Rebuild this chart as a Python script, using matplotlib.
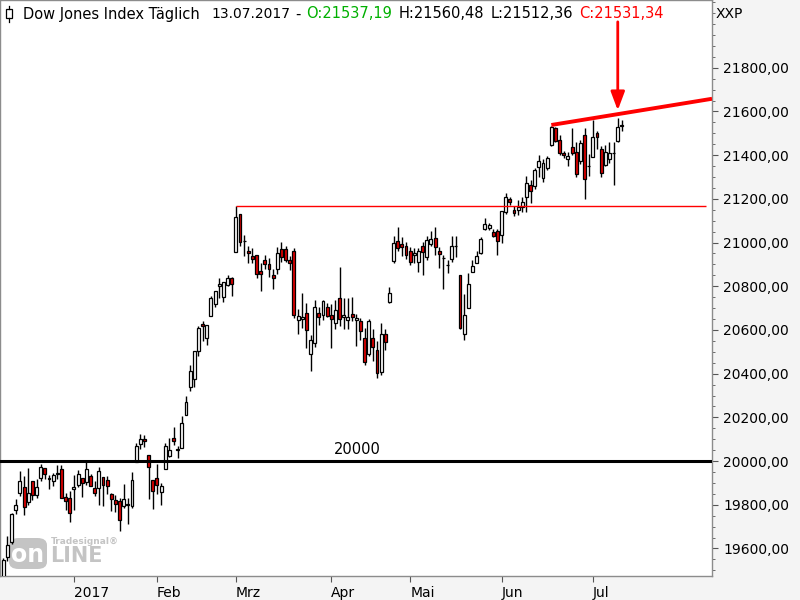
import matplotlib.pyplot as plt
import numpy as np
import pandas as pd
from matplotlib.patches import FancyBboxPatch, Rectangle
from matplotlib.ticker import FixedLocator, MultipleLocator, FuncFormatter

# trading days shown (Dec 7 2016 .. Jul 13 2017, US exchange holidays removed)
holidays = ['2016-12-26', '2017-01-02', '2017-01-16', '2017-02-20',
            '2017-04-14', '2017-05-29', '2017-07-04']
dates = pd.bdate_range('2016-12-07', '2017-07-13')
dates = dates[~dates.isin(pd.to_datetime(holidays))]

opens = [19252, 19561, 19631, 19777, 19853, 19883, 19811, 19910, 19843, 19922,
         19969, 19922, 19908, 19943, 19964, 19835, 19833,
         19872, 19890, 19924, 19906, 19932, 19877, 19876, 19926, 19912, 19848,
         19822, 19819, 19795, 19805, 19794, 19994, 20076, 20102, 20028, 19913,
         19923, 19858, 19964, 20025, 20107, 20049, 20061, 20211, 20338, 20374,
         20504, 20627, 20564, 20663, 20719, 20800, 20750, 20808, 20837,
         20957, 21131, 21005, 20962, 20938, 20942, 20869, 20920, 20902, 20852,
         20879, 20971, 20970, 20920, 20961, 20647, 20650, 20678, 20490, 20540,
         20677, 20668, 20705,
         20668, 20632, 20746, 20659, 20645, 20673, 20645, 20641, 20563, 20490,
         20563, 20508, 20407, 20581, 20728, 20915, 21007, 20993, 20984,
         20961, 20943, 20911, 20984, 20934, 20993, 21020, 20961, 20931, 20897,
         20925, 20986, 20851, 20581, 20700, 20865, 20906, 20952, 21064, 21068,
         21048, 21052,
         21034, 21140, 21199, 21149, 21149, 21163, 21208, 21263, 21259, 21346,
         21295, 21341, 21446, 21524, 21469, 21410, 21382, 21437, 21414, 21373,
         21492, 21352,
         21391, 21501, 21428, 21355, 21382, 21410, 21465, 21537.19]
highs = [19558, 19658, 19762, 19826, 19953, 19930, 19966, 19910, 19917, 19988,
         19969, 19934, 19945, 19981, 19980, 19853, 19864,
         19938, 19957, 19924, 19999, 19943, 19910, 19974, 19927, 19933, 19856,
         19843, 19833, 19893, 19833, 19949, 20082, 20125, 20117, 20028, 19913,
         19988, 19898, 20081, 20105, 20155, 20068, 20206, 20298, 20441, 20504,
         20620, 20639, 20624, 20757, 20780, 20840, 20821, 20852, 20841,
         21169, 21131, 21036, 20985, 20976, 20942, 20907, 20942, 20929, 20880,
         20979, 21004, 20985, 20939, 20974, 20695, 20767, 20724, 20577, 20737,
         20705, 20737, 20723,
         20719, 20737, 20888, 20746, 20746, 20751, 20673, 20655, 20609, 20650,
         20604, 20549, 20631, 20604, 20796, 21030, 21070, 21025, 21002,
         20979, 20975, 20975, 21002, 21030, 21052, 21071, 20979, 20943, 20920,
         21030, 21032, 20851, 20764, 20860, 20920, 20961, 21027, 21112, 21090,
         21062, 21060,
         21144, 21226, 21208, 21167, 21195, 21210, 21305, 21286, 21340, 21400,
         21382, 21397, 21535, 21530, 21491, 21420, 21414, 21526, 21460, 21469,
         21525, 21404,
         21562, 21512, 21440, 21446, 21460, 21460, 21570, 21560.48]
lows = [19249, 19541, 19621, 19756, 19842, 19752, 19800, 19824, 19832, 19907,
        19917, 19873, 19887, 19918, 19831, 19775, 19719,
        19775, 19880, 19835, 19891, 19887, 19838, 19799, 19793, 19849, 19771,
        19765, 19678, 19786, 19714, 19786, 19994, 20053, 20064, 19828, 19781,
        19849, 19799, 19964, 20017, 20075, 20013, 20061, 20211, 20319, 20337,
        20480, 20551, 20532, 20663, 20703, 20745, 20727, 20800, 20756,
        20957, 20982, 20939, 20908, 20906, 20836, 20780, 20879, 20842, 20789,
        20855, 20913, 20912, 20873, 20656, 20580, 20610, 20518, 20413, 20522,
        20622, 20645, 20659,
        20519, 20605, 20618, 20605, 20605, 20641, 20527, 20554, 20439, 20480,
        20458, 20380, 20395, 20508, 20723, 20906, 20961, 20938, 20925,
        20897, 20906, 20865, 20851, 20920, 20984, 20944, 20883, 20787, 20860,
        20911, 20934, 20606, 20553, 20700, 20865, 20906, 20947, 21059, 21059,
        21025, 20943,
        20998, 21130, 21170, 21121, 21126, 21140, 21138, 21180, 21245, 21300,
        21277, 21330, 21440, 21461, 21401, 21387, 21350, 21401, 21300, 21360,
        21198, 21303,
        21390, 21430, 21300, 21350, 21366, 21265, 21460, 21512.36]
closes = [19549, 19615, 19757, 19797, 19911, 19792, 19853, 19843, 19883, 19974,
          19942, 19918, 19934, 19946, 19833, 19819, 19763,
          19882, 19942, 19900, 19964, 19887, 19855, 19954, 19891, 19885, 19826,
          19804, 19732, 19827, 19799, 19912, 20069, 20100, 20093, 19971, 19864,
          19890, 19884, 20071, 20052, 20090, 20054, 20172, 20269, 20412, 20504,
          20611, 20619, 20624, 20744, 20776, 20811, 20821, 20837, 20812,
          21115, 21002, 21006, 20954, 20924, 20855, 20858, 20903, 20881, 20837,
          20950, 20934, 20920, 20905, 20669, 20664, 20659, 20600, 20554, 20705,
          20659, 20732, 20663,
          20650, 20691, 20650, 20668, 20659, 20659, 20654, 20595, 20453, 20641,
          20522, 20403, 20581, 20545, 20769, 20998, 20975, 20979, 20943,
          20911, 20952, 20961, 20957, 21011, 21016, 20979, 20947, 20929, 20895,
          20984, 20982, 20609, 20668, 20810, 20893, 20938, 21016, 21083, 21082,
          21030, 21007,
          21144, 21208, 21185, 21135, 21163, 21185, 21272, 21236, 21332, 21373,
          21364, 21387, 21529, 21465, 21410, 21400, 21396, 21410, 21312, 21455,
          21290, 21350,
          21483, 21483, 21318, 21414, 21410, 21409, 21529, 21531.34]

resistance = ('2017-03-01', 21169)   # high of 1 March
level = 20000
trend_start = ('2017-06-19', 21538)
trend_slope = 3.1                    # points per trading day
arrow_day = '2017-07-12'
y_ticks = [19600, 19800, 20000, 20200, 20400, 20600, 20800,
           21000, 21200, 21400, 21600, 21800]

month_names = {1: '2017', 2: 'Feb', 3: 'Mrz', 4: 'Apr', 5: 'Mai', 6: 'Jun', 7: 'Jul'}

W, H = 800, 600
fig = plt.figure(figsize=(8, 6), dpi=100, facecolor='#f4f4f4')
ax = fig.add_axes([0, 24 / H, 712 / W, 576 / H])
ax.set_facecolor('white')

x = np.arange(len(dates))
o = np.array(opens, float)
c = np.array(closes, float)
xmin, xmax = -0.8, 170.7
ax.set_xlim(xmin, xmax)
ax.set_ylim(19474, 22110)

def px(xp, yp):
    return xp / W, 1 - yp / H

# watermark (behind the candles)
ax.add_patch(FancyBboxPatch(px(9, 569), 38 / W, 31 / H,
                            boxstyle='round,pad=0,rounding_size=0.012',
                            transform=fig.transFigure, fc='#c4c4c4', ec='none',
                            zorder=0.5, clip_on=False))
ax.text(*px(28, 555), 'on', transform=fig.transFigure, color='white',
        fontsize=17, fontweight='bold', ha='center', va='center', zorder=0.6)
ax.text(*px(50, 556), 'LINE', transform=fig.transFigure, color='#c4c4c4',
        fontsize=15, fontweight='bold', ha='left', va='center', zorder=0.6)
ax.text(*px(51, 542), 'Tradesignal®', transform=fig.transFigure, color='#c4c4c4',
        fontsize=6.5, fontweight='bold', ha='left', va='center', zorder=0.6)

# candles
ax.vlines(x, lows, highs, color='black', lw=1, zorder=2)
bottom = np.minimum(o, c)
height = np.maximum(np.abs(c - o), 2)
colors = ['white' if cc >= oo else '#e00000' for oo, cc in zip(o, c)]
ax.bar(x, height, bottom=bottom, width=0.7, color=colors,
       edgecolor='black', linewidth=0.9, zorder=3)

# 20000 line
ax.axhline(level, color='black', lw=2.2, zorder=4)
ax.text(0.502, level + 18, str(level), transform=ax.get_yaxis_transform(),
        ha='center', va='bottom', fontsize=10.5)

# resistance from the 1 March high
i_res = dates.get_loc(pd.Timestamp(resistance[0]))
ax.hlines(resistance[1], i_res, 169.3, color='#ff0000', lw=1, zorder=4)

# trend line over the June/July highs
i_tr = dates.get_loc(pd.Timestamp(trend_start[0]))
ax.plot([i_tr, xmax], [trend_start[1], trend_start[1] + trend_slope * (xmax - i_tr)],
        color='#ff0000', lw=2.8, solid_capstyle='butt', zorder=5)

i_arr = dates.get_loc(pd.Timestamp(arrow_day))
ax.annotate('', xy=(i_arr, 21605), xytext=(i_arr, 22010),
            arrowprops=dict(arrowstyle='-|>,head_width=0.3,head_length=0.8',
                            color='#ff0000', lw=2, mutation_scale=14,
                            shrinkA=0, shrinkB=0), zorder=6)

# axes styling
for s in ax.spines.values():
    s.set_color('#8c8c8c')
    s.set_linewidth(1)

ax.yaxis.tick_right()
ax.yaxis.set_major_locator(FixedLocator(y_ticks))
ax.yaxis.set_minor_locator(MultipleLocator(50))
ax.yaxis.set_major_formatter(FuncFormatter(lambda v, p: f'{v:.2f}'.replace('.', ',')))
ax.tick_params(axis='y', which='major', length=4, color='#555555', labelsize=10, pad=4)
ax.tick_params(axis='y', which='minor', length=2, color='#555555')

month_first = [i for i in range(1, len(dates)) if dates[i].month != dates[i - 1].month]
ax.xaxis.set_major_locator(FixedLocator(month_first))
ax.set_xticklabels([month_names[dates[i].month] for i in month_first], ha='left')
ax.tick_params(axis='x', length=4, color='#555555', labelsize=10, pad=3)

fig.text(*px(716, 14), 'XXP', fontsize=10, va='center', ha='left')

# header inside the chart
ax.add_patch(Rectangle(px(6, 18), 6 / W, 9 / H, transform=fig.transFigure,
                       fc='white', ec='black', lw=0.9, zorder=7, clip_on=False))
ax.add_line(plt.Line2D([9 / W, 9 / W], [1 - 6 / H, 1 - 9 / H], transform=fig.transFigure,
                       color='black', lw=0.9, zorder=7))
ax.add_line(plt.Line2D([9 / W, 9 / W], [1 - 18 / H, 1 - 22 / H], transform=fig.transFigure,
                       color='black', lw=0.9, zorder=7))
header = [(23, 'Dow Jones Index Täglich', 'black', 10.5),
          (211, '13.07.2017', 'black', 10),
          (295, '-', 'black', 10.5),
          (306, 'O:21537,19', '#00b000', 10.5),
          (399, 'H:21560,48', 'black', 10.5),
          (491, 'L:21512,36', 'black', 10.5),
          (579, 'C:21531,34', '#ff0000', 10.5)]
for xp, t, col, fs in header:
    fig.text(*px(xp, 14), t, color=col, fontsize=fs, va='center', ha='left')

fig.savefig('out.png', dpi=100, facecolor=fig.get_facecolor())
